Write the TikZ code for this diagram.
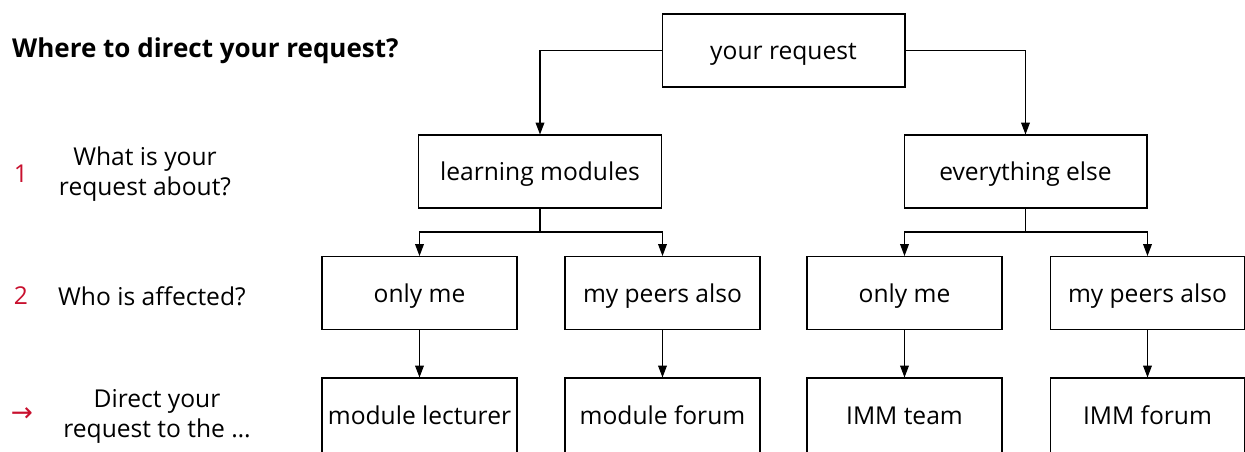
\documentclass[tikz,border=0pt]{standalone}
\usepackage{fontspec}
\setmainfont{Open Sans}
\newfontfamily\arrowfont{DejaVu Sans}
\usetikzlibrary{arrows.meta}
\definecolor{stepred}{RGB}{200,16,46}
\tikzset{
  box/.style={draw, line width=0.6pt, minimum width=4.86cm, minimum height=1.46cm, inner sep=0pt, text height=12pt, text depth=1.5pt, font=\fontsize{14}{17}\selectfont},
  smallbox/.style={box, minimum width=3.9cm},
  link/.style={line width=0.6pt, -{Triangle[length=6.8pt,width=5pt]}},
  question/.style={align=center, font=\fontsize{14}{17}\selectfont},
  stepno/.style={text=stepred, font=\fontsize{14}{17}\selectfont}
}
\begin{document}
\begin{tikzpicture}[x=0.02cm,y=-0.02cm]
\useasboundingbox (0,0) rectangle (1245,451);
% title and questions
\node[anchor=west, font=\bfseries\fontsize{14.8}{17}\selectfont] (title) at (6,51) {Where to direct your request?};
\node[stepno] (n1) at (21,174) {1};
\node[question] (q1) at (145,174) {What is your\\request about?};
\node[stepno] (n2) at (21,296) {2};
\node[question, anchor=west] (q2) at (52,296) {Who is affected?};
\node[stepno, font=\arrowfont\fontsize{15}{17}\selectfont] (n3) at (22,415) {→};
\node[question] (q3) at (157,416) {Direct your\\request to the …};
% tree
\node[box] (req) at (783.5,50.5) {your request};
\node[box] (lm) at (540,171.5) {learning modules};
\node[box] (else) at (1025.5,171.5) {everything else};
\node[smallbox] (lmme) at (419.5,293) {only me};
\node[smallbox] (lmpeers) at (662.5,293) {my peers also};
\node[smallbox] (elseme) at (904.5,293) {only me};
\node[smallbox] (elsepeers) at (1147.5,293) {my peers also};
\node[smallbox, minimum height=1.5cm] (lecturer) at (419.5,415.5) {module lecturer};
\node[smallbox, minimum height=1.5cm] (mforum) at (662.5,415.5) {module forum};
\node[smallbox, minimum height=1.5cm] (team) at (904.5,415.5) {IMM team};
\node[smallbox, minimum height=1.5cm] (iforum) at (1147.5,415.5) {IMM forum};
\coordinate (lmfork) at (540,232);
\coordinate (elsefork) at (1025.5,232);
\draw[link] (req.west) -| (lm.north);
\draw[link] (req.east) -| (else.north);
\draw[link] (lm.south) -- (lmfork) -| (lmme.north);
\draw[link] (lmfork) -| (lmpeers.north);
\draw[link] (else.south) -- (elsefork) -| (elseme.north);
\draw[link] (elsefork) -| (elsepeers.north);
\draw[link] (lmme) -- (lecturer);
\draw[link] (lmpeers) -- (mforum);
\draw[link] (elseme) -- (team);
\draw[link] (elsepeers) -- (iforum);
\end{tikzpicture}
\end{document}
